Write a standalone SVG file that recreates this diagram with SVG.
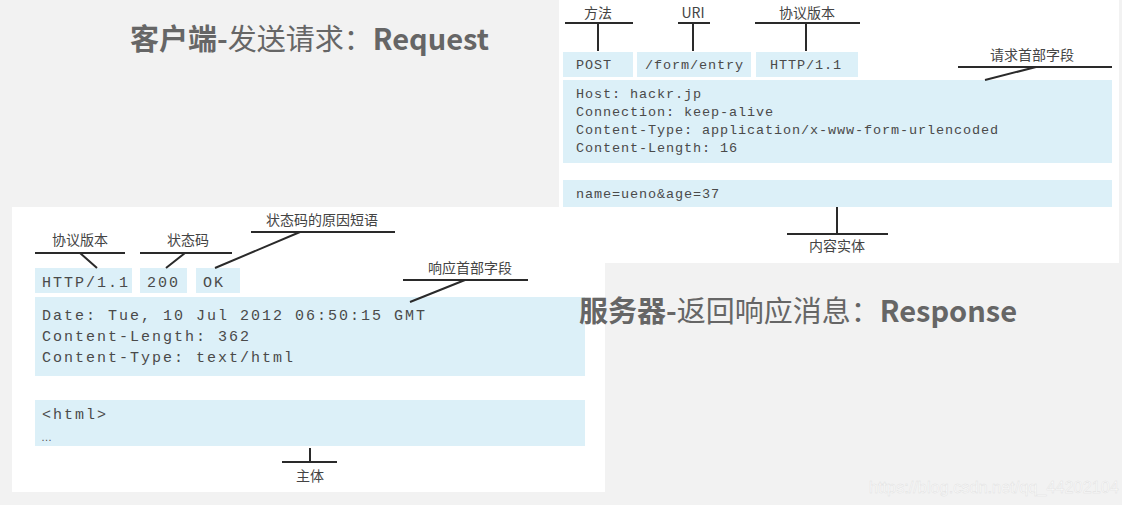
<svg xmlns="http://www.w3.org/2000/svg" width="1122" height="505" viewBox="0 0 1122 505">
<style>
.panel{fill:#ffffff}
.box{fill:#dcf0f8}
.mono{font-family:"Liberation Mono","DejaVu Sans Mono",monospace;fill:#4a4a4a}
.req{font-size:13.5px;letter-spacing:0.9px}
.res{font-size:15px;letter-spacing:2px}
.lbl{font-family:"Noto Sans CJK SC","Noto Sans",sans-serif;font-size:14px;fill:#444;text-anchor:middle}
.ln{stroke:#2a2a2a;stroke-width:2;fill:none}
.title{font-family:"Noto Sans CJK SC","Noto Sans",sans-serif;font-size:29px;fill:#666}
.b{font-weight:bold}
</style>
<rect width="1122" height="505" fill="#f2f2f2"/>
<g id="title-request"><text class="title" x="130" y="50"><tspan class="b">客户端-</tspan>发送请求：<tspan class="b">Request</tspan></text></g>
<g id="request-panel">
<rect class="panel" x="559" y="0" width="560" height="263"/>
<rect class="box" x="563" y="52" width="70" height="25"/>
<rect class="box" x="637" y="52" width="114" height="25"/>
<rect class="box" x="756" y="52" width="102" height="25"/>
<rect class="box" x="563" y="80" width="549" height="83"/>
<rect class="box" x="563" y="180" width="549" height="27"/>
<text class="mono req" x="576" y="69">POST</text>
<text class="mono req" x="645" y="69">/form/entry</text>
<text class="mono req" x="770" y="69">HTTP/1.1</text>
<text class="mono req" x="576" y="98">Host: hackr.jp</text>
<text class="mono req" x="576" y="116">Connection: keep-alive</text>
<text class="mono req" x="576" y="134">Content-Type: application/x-www-form-urlencoded</text>
<text class="mono req" x="576" y="152">Content-Length: 16</text>
<text class="mono req" x="576" y="198">name=ueno&amp;age=37</text>
<text class="lbl" x="598" y="18">方法</text>
<text class="lbl" x="693" y="18">URI</text>
<text class="lbl" x="807" y="18">协议版本</text>
<text class="lbl" x="1032" y="60">请求首部字段</text>
<text class="lbl" x="837" y="251">内容实体</text>
</g>
<g id="response-panel">
<rect class="panel" x="12" y="207" width="593" height="285"/>
<rect class="box" x="35" y="268" width="97" height="25"/>
<rect class="box" x="140" y="268" width="47" height="25"/>
<rect class="box" x="196" y="268" width="44" height="25"/>
<rect class="box" x="35" y="297" width="550" height="79"/>
<rect class="box" x="35" y="400" width="550" height="46"/>
<text class="mono res" x="42" y="287">HTTP/1.1</text>
<text class="mono res" x="147" y="287">200</text>
<text class="mono res" x="203" y="287">OK</text>
<text class="mono res" x="42" y="320">Date: Tue, 10 Jul 2012 06:50:15 GMT</text>
<text class="mono res" x="42" y="341">Content-Length: 362</text>
<text class="mono res" x="42" y="362">Content-Type: text/html</text>
<text class="mono res" x="42" y="419">&lt;html&gt;</text>
<text x="41" y="441" font-family="Liberation Sans,sans-serif" font-size="11" fill="#555">…</text>
<text class="lbl" x="80" y="245">协议版本</text>
<text class="lbl" x="188" y="245">状态码</text>
<text class="lbl" x="322" y="225">状态码的原因短语</text>
<text class="lbl" x="470" y="273">响应首部字段</text>
<text class="lbl" x="310" y="481">主体</text>
</g>
<g id="connectors">
<path class="ln" d="M565 23H633M598 23V51"/>
<path class="ln" d="M678 23H710M693 23V51"/>
<path class="ln" d="M755 23H860M806 23V51"/>
<path class="ln" d="M958 67H1112M1036 67L985 80"/>
<path class="ln" d="M787 234H888M837 234V207"/>
<path class="ln" d="M35 253H125M80 253L97 268"/>
<path class="ln" d="M140 253H232M185 253L166 268"/>
<path class="ln" d="M251 232H395M300 232L215 268"/>
<path class="ln" d="M403 280H528M465 280L410 302"/>
<path class="ln" d="M282 462H337M310 462V448"/>
</g>
<g id="title-response"><text class="title" x="579" y="322"><tspan class="b">服务器-</tspan>返回响应消息：<tspan class="b">Response</tspan></text></g>
<text x="869" y="493" font-family="Liberation Sans,sans-serif" font-size="16.3" fill="#fbfbfb" stroke="#dedede" stroke-width="0.4">https://blog.csdn.net/qq_44202104</text>
</svg>
